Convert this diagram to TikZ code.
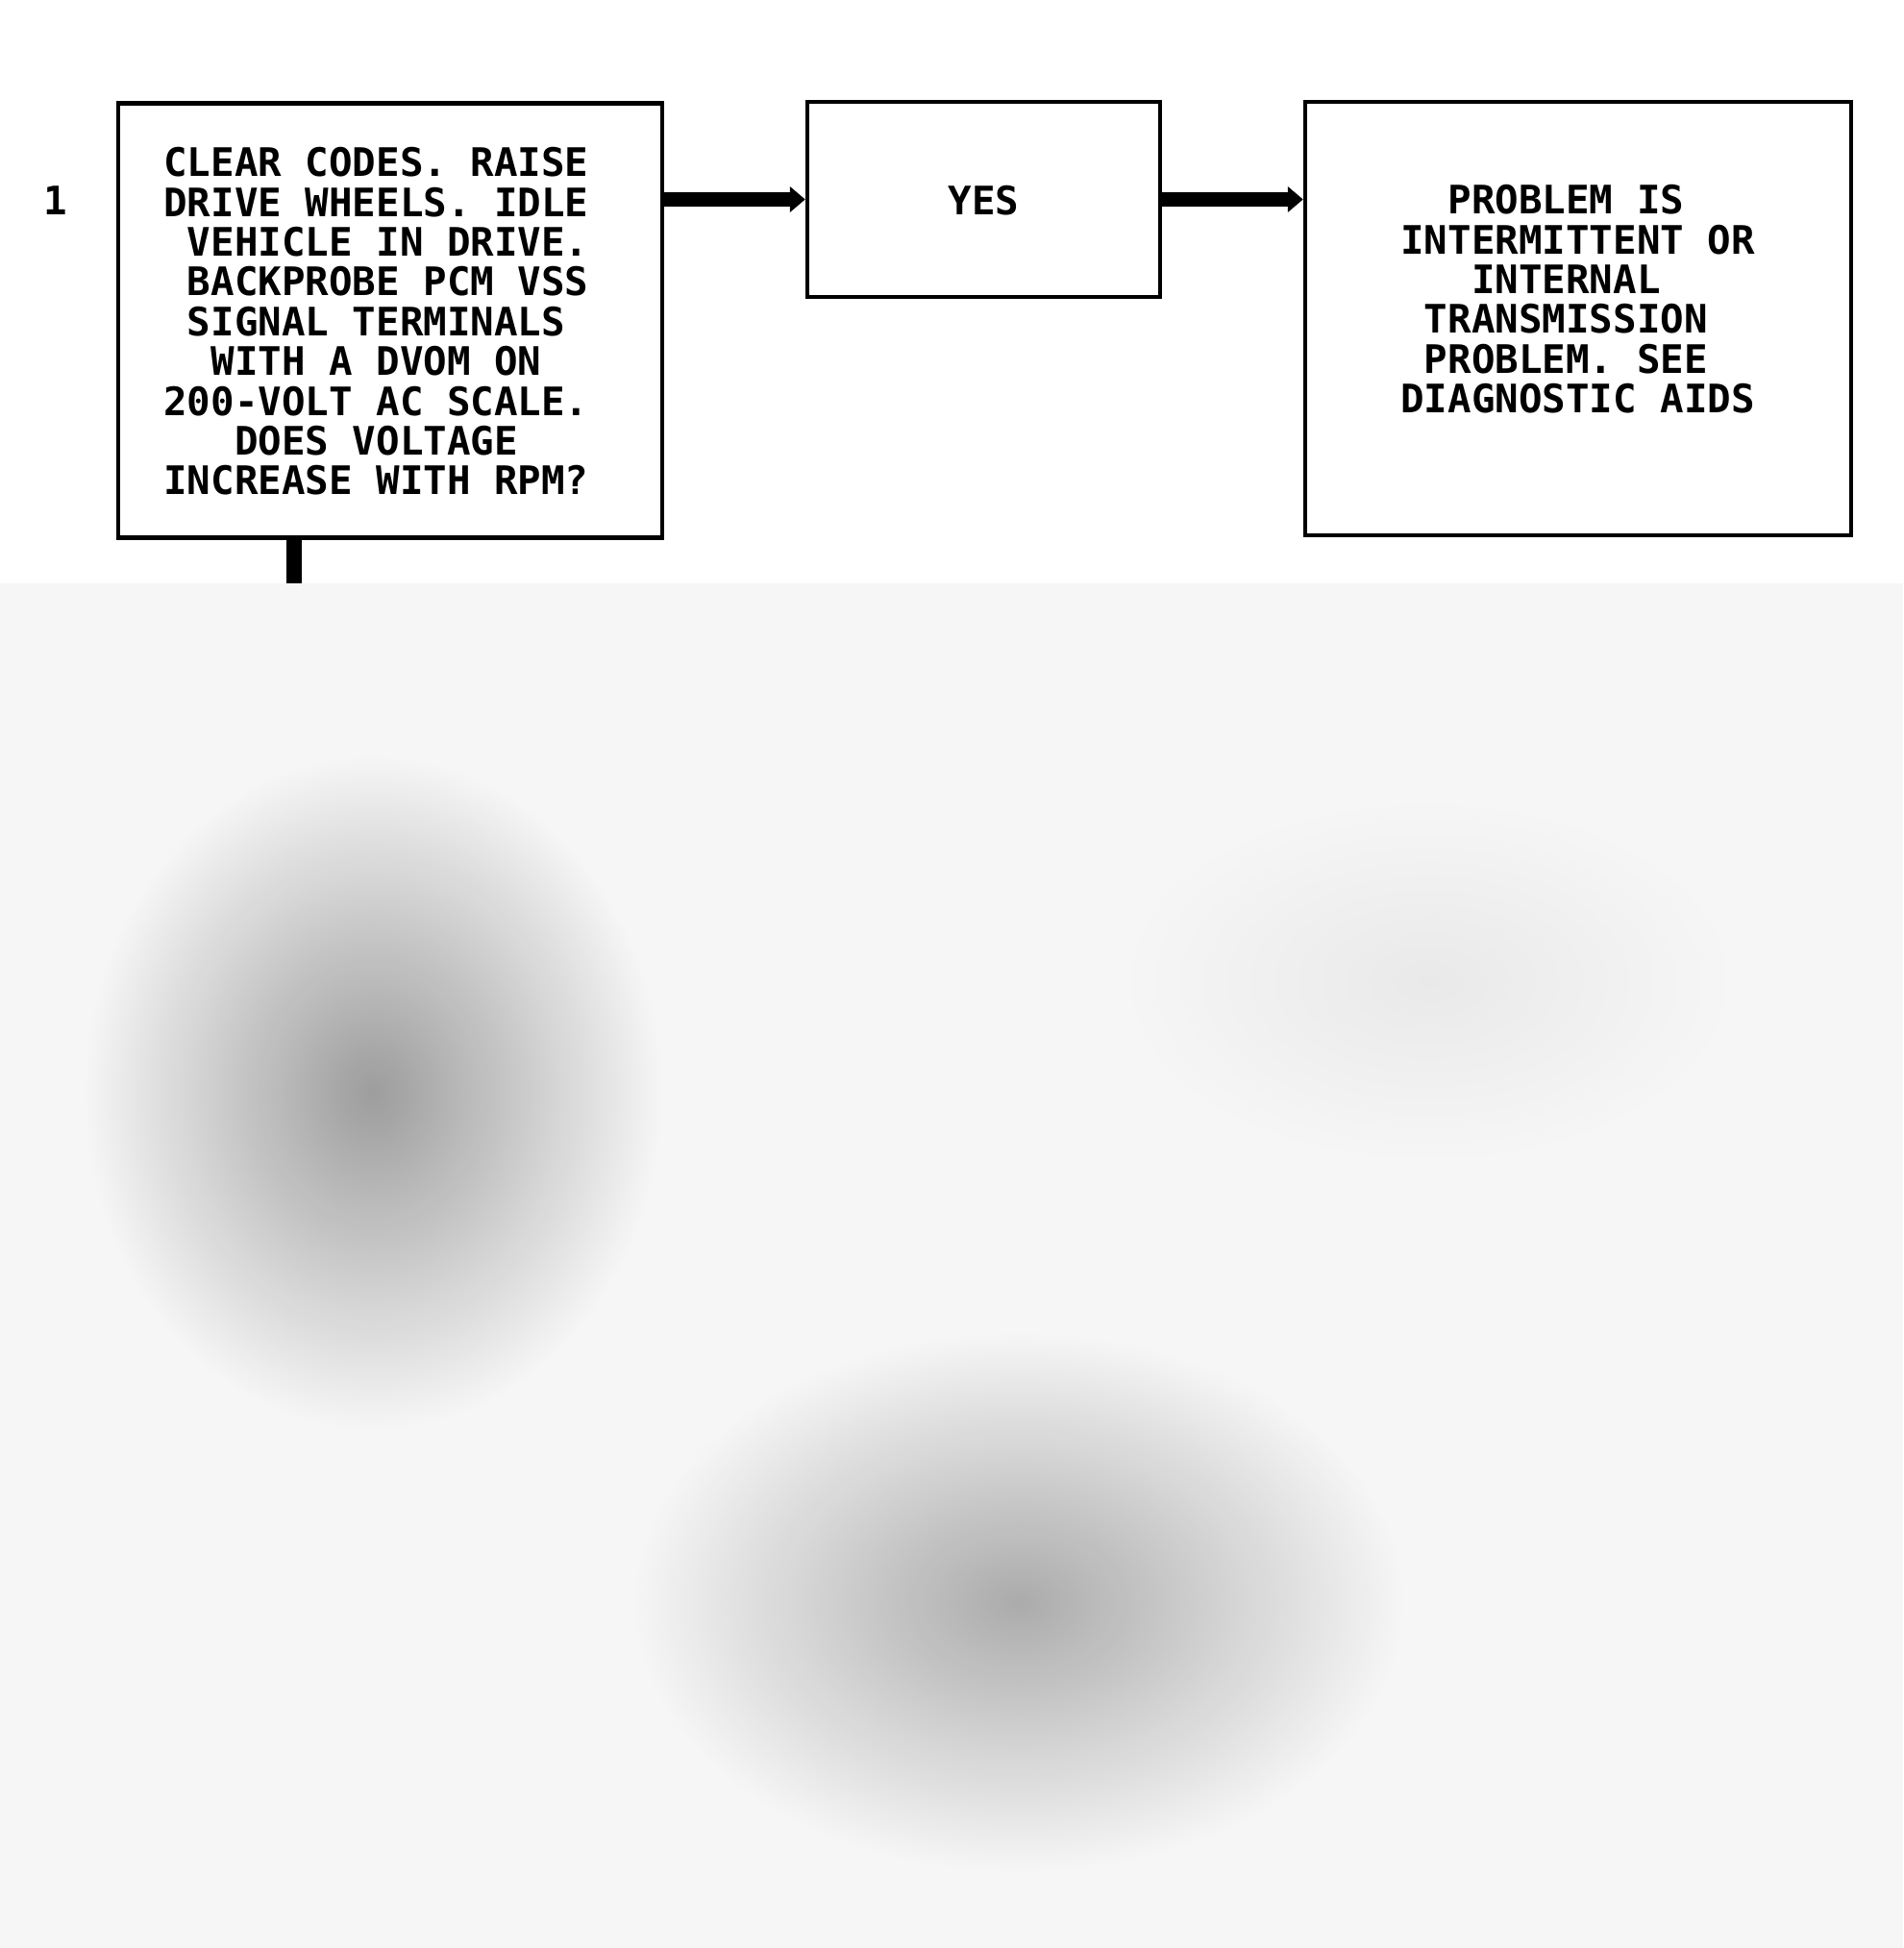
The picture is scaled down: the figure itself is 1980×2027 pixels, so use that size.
\documentclass[tikz,border=0pt]{standalone}
\usepackage{fontspec}
\newfontfamily\chartfont{DejaVu Sans Mono}
\usetikzlibrary{arrows.meta,fadings}
\definecolor{pagegray}{gray}{0.965}
\newcommand{\blank}{\hphantom{0}}
\tikzfading[name=blob, inner color=transparent!0, outer color=transparent!100]

\begin{document}
\begin{tikzpicture}[x=0.5pt,y=-0.5pt,
  box/.style={draw, line width=2.2pt, inner sep=0pt},
  boxtext/.style={inner sep=0pt, align=left, anchor=north west,
    font=\chartfont\bfseries\fontsize{20.4pt}{20.7pt}\selectfont},
  flow/.style={line width=7.5pt, -{Triangle[length=8pt,width=13pt]}},
  smudge/.style={fill=black, path fading=blob}]
\useasboundingbox (0,0) rectangle (1980,2027);
\fill[white] (0,0) rectangle (1980,2027);
% step 1
\node [boxtext, anchor=center] (num) at (58,209) {1};
\node [box, minimum width=283pt, minimum height=226pt] (check) at (406,333.5) {};
\node [boxtext] (checktext) at (170,153) {CLEAR CODES. RAISE\\
DRIVE WHEELS. IDLE\\
\blank VEHICLE IN DRIVE.\\
\blank BACKPROBE PCM VSS\\
\blank SIGNAL TERMINALS\\
\blank\blank WITH A DVOM ON\\
200-VOLT AC SCALE.\\
\blank\blank\blank DOES VOLTAGE\\
INCREASE WITH RPM?};
\node [box, minimum width=183.5pt, minimum height=101.5pt] (yes) at (1023.5,207.5) {};
\node [boxtext, anchor=center] (yestext) at (1023.5,209) {YES};
\node [box, minimum width=284pt, minimum height=225.5pt] (result) at (1642,331.5) {};
\node [boxtext] (resulttext) at (1457,192) {\blank\blank PROBLEM IS\\
INTERMITTENT OR\\
\blank\blank\blank INTERNAL\\
\blank TRANSMISSION\\
\blank PROBLEM. SEE\\
DIAGNOSTIC AIDS};
\coordinate (cut) at (306,607);
\draw [flow] (check.east |- yes.west) -- (yes.west);
\draw [flow] (yes.east) -- (yes.east -| result.west);
\draw [line width=8pt] (check.south -| cut) -- (cut);
% covered lower part of the page
\fill[pagegray] (0,607) rectangle (1980,2027);
\begin{scope}
\clip (0,607) rectangle (1980,2027);
\fill[smudge, opacity=0.05] (1486,1021) ellipse (160pt and 95pt);
\fill[smudge, opacity=0.36] (388,1137) ellipse (150pt and 175pt);
\fill[smudge, opacity=0.30] (1060,1667) ellipse (200pt and 140pt);
\end{scope}
\end{tikzpicture}
\end{document}
